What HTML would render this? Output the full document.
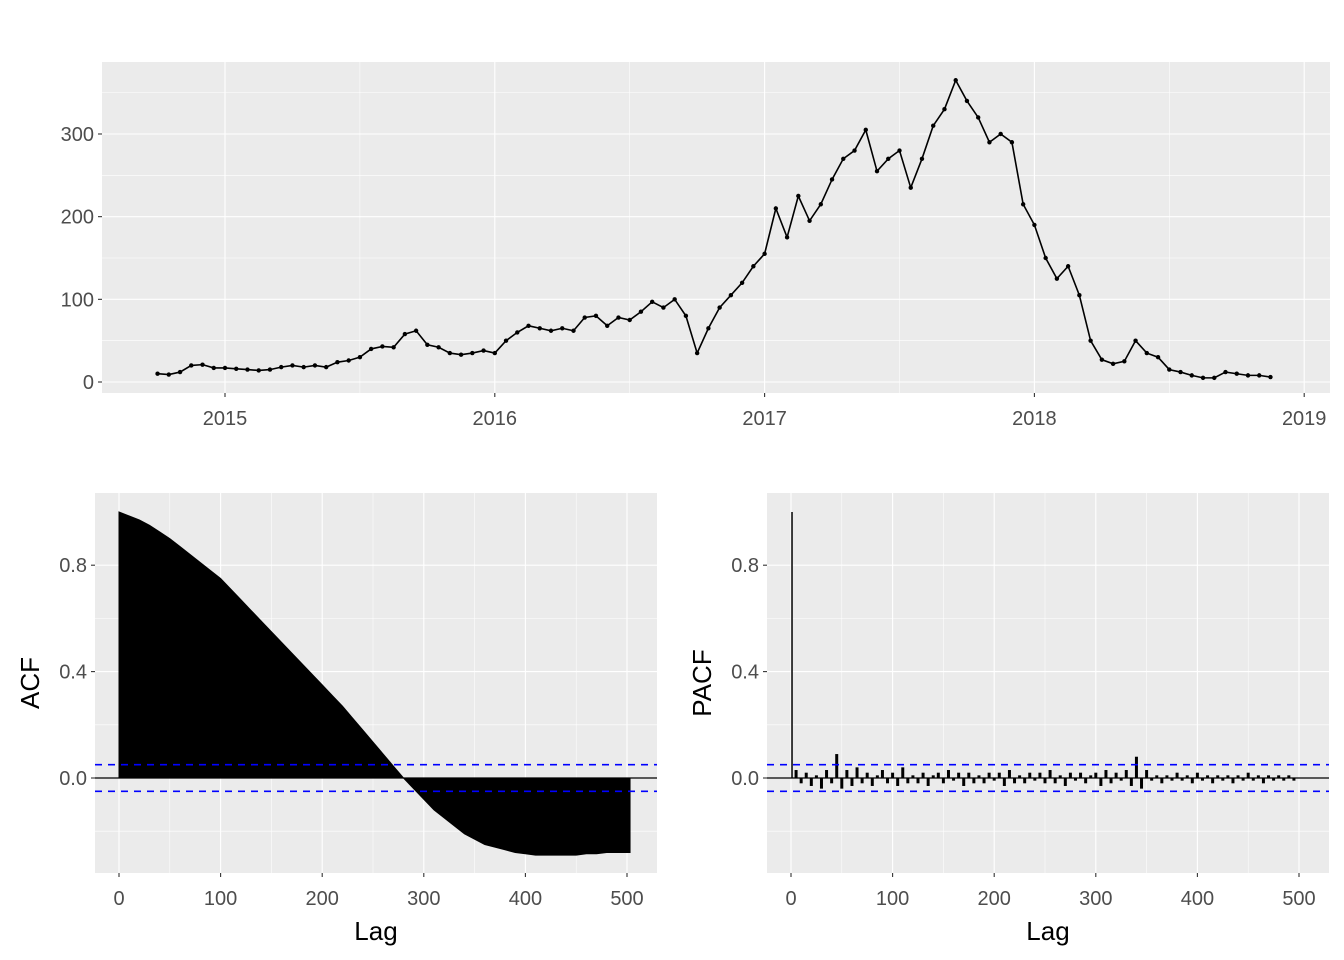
<!DOCTYPE html>
<html><head><meta charset="utf-8"><style>
html,body{margin:0;padding:0;background:#fff;}
svg{display:block;font-family:"Liberation Sans",Arial,sans-serif;}
</style></head><body>
<svg id="c" width="1344" height="960" xmlns="http://www.w3.org/2000/svg"></svg>
<script>
// ---- Data ----
const seriesStart = 2014.75; // decimal year, step = half month
const seriesStepPerYear = 24;
const seriesValues = [10,9,12,20,21,17,
17,16,15,14,15,18,20,18,20,18,24,26,30,40,43,42,58,62,45,42,35,33,35,38,
35,50,60,68,65,62,65,62,78,80,68,78,75,85,97,90,100,80,35,65,90,105,120,140,
155,210,175,225,195,215,245,270,280,305,255,270,280,235,270,310,330,365,340,320,290,300,290,215,
190,150,125,140,105,50,27,22,25,50,35,30,15,12,8,5,5,12,10,8,8,6];
const yearTicks = [2015,2016,2017,2018,2019];
const tsYTicks = [0,100,200,300];
const acfLags = [0,10,20,30,40,50,60,70,80,90,100,110,120,130,140,150,160,170,180,190,200,210,220,230,240,250,260,270,280,290,300,310,320,330,340,350,360,370,380,390,400,410,420,430,440,450,460,470,480,490,500];
const acfValues = [1.0,0.985,0.97,0.95,0.925,0.9,0.87,0.84,0.81,0.78,0.75,0.71,0.67,0.63,0.59,0.55,0.51,0.47,0.43,0.39,0.35,0.31,0.27,0.225,0.18,0.135,0.09,0.045,0.0,-0.04,-0.08,-0.12,-0.15,-0.18,-0.21,-0.23,-0.25,-0.26,-0.27,-0.28,-0.285,-0.29,-0.29,-0.29,-0.29,-0.29,-0.285,-0.285,-0.28,-0.28,-0.28];
const pacfValues = [1.0,0.03,-0.02,0.02,-0.03,0.01,-0.04,0.03,-0.02,0.09,-0.04,0.03,-0.03,0.04,-0.02,0.02,-0.03,0.01,0.03,-0.02,
0.02,-0.03,0.04,-0.02,0.01,-0.02,0.02,-0.03,0.01,0.02,-0.02,0.03,-0.01,0.02,-0.03,0.02,-0.02,0.01,-0.02,0.02,
-0.01,0.02,-0.03,0.03,-0.02,0.01,-0.02,0.02,-0.01,0.02,-0.02,0.03,-0.02,0.01,-0.03,0.02,-0.01,0.02,-0.02,0.01,
0.02,-0.03,0.03,-0.02,0.02,-0.01,0.03,-0.03,0.08,-0.04,0.03,-0.01,0.01,-0.02,0.01,-0.01,0.02,-0.01,0.01,-0.02,
0.02,-0.01,0.01,-0.02,0.01,-0.01,0.01,-0.02,0.01,-0.01,0.02,-0.01,0.01,-0.02,0.01,-0.01,0.01,-0.01,0.01,-0.01];
const pacfStep = 5;
const acfTicks = [0, 0.4, 0.8];
const lagTicks = [0,100,200,300,400,500];
const ciBound = 0.05;

const NS="http://www.w3.org/2000/svg";
const svg=document.getElementById('c');
function mk(tag,attrs,parent){const e=document.createElementNS(NS,tag);for(const k in attrs)e.setAttribute(k,attrs[k]);(parent||svg).appendChild(e);return e;}

// ---- Top panel ----
const T={x0:102,x1:1330,y0:62,y1:393};
const xT=y=>225+(y-2015)*269.8;
const yT=v=>382-v*0.8267;
let g=mk('g',{});


mk('rect',{x:T.x0,y:T.y0,width:T.x1-T.x0,height:T.y1-T.y0,fill:'#EBEBEB'},g);
[50,150,250,350].forEach(v=>mk('line',{x1:T.x0,x2:T.x1,y1:yT(v),y2:yT(v),stroke:'#fff','stroke-width':0.55},g));
[2014.5,2015.5,2016.5,2017.5,2018.5].forEach(v=>{if(xT(v)>T.x0)mk('line',{x1:xT(v),x2:xT(v),y1:T.y0,y2:T.y1,stroke:'#fff','stroke-width':0.55},g);});
tsYTicks.forEach(v=>{mk('line',{x1:T.x0,x2:T.x1,y1:yT(v),y2:yT(v),stroke:'#fff','stroke-width':1.1},g);
 mk('line',{x1:T.x0-4,x2:T.x0,y1:yT(v),y2:yT(v),stroke:'#333','stroke-width':1.1},g);
 const t=mk('text',{x:T.x0-8,y:yT(v)+7,'text-anchor':'end','font-size':20,fill:'#4D4D4D'},g);t.textContent=v;
 });
yearTicks.forEach(v=>{mk('line',{x1:xT(v),x2:xT(v),y1:T.y0,y2:T.y1,stroke:'#fff','stroke-width':1.1},g);
 mk('line',{x1:xT(v),x2:xT(v),y1:T.y1,y2:T.y1+4,stroke:'#333','stroke-width':1.1},g);
 const t=mk('text',{x:xT(v),y:T.y1+32,'text-anchor':'middle','font-size':20,fill:'#4D4D4D'},g);t.textContent=v;
 });
let pts=seriesValues.map((v,i)=>[xT(seriesStart+i/seriesStepPerYear),yT(v)]);
const ln=mk('polyline',{points:pts.map(p=>p.join(',')).join(' '),fill:'none',stroke:'#000','stroke-width':1.6},g);

pts.forEach(p=>{const c=mk('circle',{cx:p[0],cy:p[1],r:2.2,fill:'#000'},g);});

// ---- Correlogram panels ----
function panel(px0,name,title,drawFn){
 const P={x0:px0,x1:px0+562,y0:493,y1:873};
 const x=l=>px0+24+l*1.016;
 const y=v=>778-v*266;
 const gg=mk('g',{});
 
 mk('rect',{x:P.x0,y:P.y0,width:P.x1-P.x0,height:P.y1-P.y0,fill:'#EBEBEB'},gg);
 [-0.2,0.2,0.6].forEach(v=>mk('line',{x1:P.x0,x2:P.x1,y1:y(v),y2:y(v),stroke:'#fff','stroke-width':0.55},gg));
 [50,150,250,350,450].forEach(v=>mk('line',{x1:x(v),x2:x(v),y1:P.y0,y2:P.y1,stroke:'#fff','stroke-width':0.55},gg));
 acfTicks.forEach(v=>{mk('line',{x1:P.x0,x2:P.x1,y1:y(v),y2:y(v),stroke:'#fff','stroke-width':1.1},gg);
  mk('line',{x1:P.x0-4,x2:P.x0,y1:y(v),y2:y(v),stroke:'#333','stroke-width':1.1},gg);
  const t=mk('text',{x:P.x0-8,y:y(v)+7,'text-anchor':'end','font-size':20,fill:'#4D4D4D'},gg);t.textContent=v.toFixed(1);
  });
 lagTicks.forEach(v=>{mk('line',{x1:x(v),x2:x(v),y1:P.y0,y2:P.y1,stroke:'#fff','stroke-width':1.1},gg);
  mk('line',{x1:x(v),x2:x(v),y1:P.y1,y2:P.y1+4,stroke:'#333','stroke-width':1.1},gg);
  const t=mk('text',{x:x(v),y:P.y1+32,'text-anchor':'middle','font-size':20,fill:'#4D4D4D'},gg);t.textContent=v;
  });
 drawFn(gg,x,y);
 mk('line',{x1:P.x0,x2:P.x1,y1:y(0),y2:y(0),stroke:'#000','stroke-width':1.3},gg);
 [ciBound,-ciBound].forEach(v=>{const d=mk('line',{x1:P.x0,x2:P.x1,y1:y(v),y2:y(v),stroke:'#0000FF','stroke-width':1.6,'stroke-dasharray':'7,6'},gg);
  });
 const xl=mk('text',{x:(P.x0+P.x1)/2,y:940,'text-anchor':'middle','font-size':26,fill:'#000'},gg);xl.textContent='Lag';
 
 const yl=mk('text',{x:0,y:0,'text-anchor':'middle','font-size':26,fill:'#000',transform:`translate(${P.x0-56},${(P.y0+P.y1)/2}) rotate(-90)`},gg);yl.textContent=title;
 
}
panel(95,'acf-panel','ACF',(gg,x,y)=>{
 let d=`M${x(acfLags[0])},${y(0)}`;
 acfLags.forEach((l,i)=>{d+=` L${x(l)},${y(acfValues[i])}`;});
 d+=` L${x(acfLags[acfLags.length-1]+3)},${y(acfValues[acfValues.length-1])} L${x(acfLags[acfLags.length-1]+3)},${y(0)} Z`;
 const a=mk('path',{d:d,fill:'#000',stroke:'#000','stroke-width':1},gg);
 
});
panel(767,'pacf-panel','PACF',(gg,x,y)=>{
 pacfValues.forEach((v,i)=>{const l=i===0?1:i*pacfStep;
  const b=mk('line',{x1:x(l),x2:x(l),y1:y(0),y2:y(v),stroke:'#000','stroke-width':i===0?1.5:3},gg);
  });
});
</script>
</body></html>
